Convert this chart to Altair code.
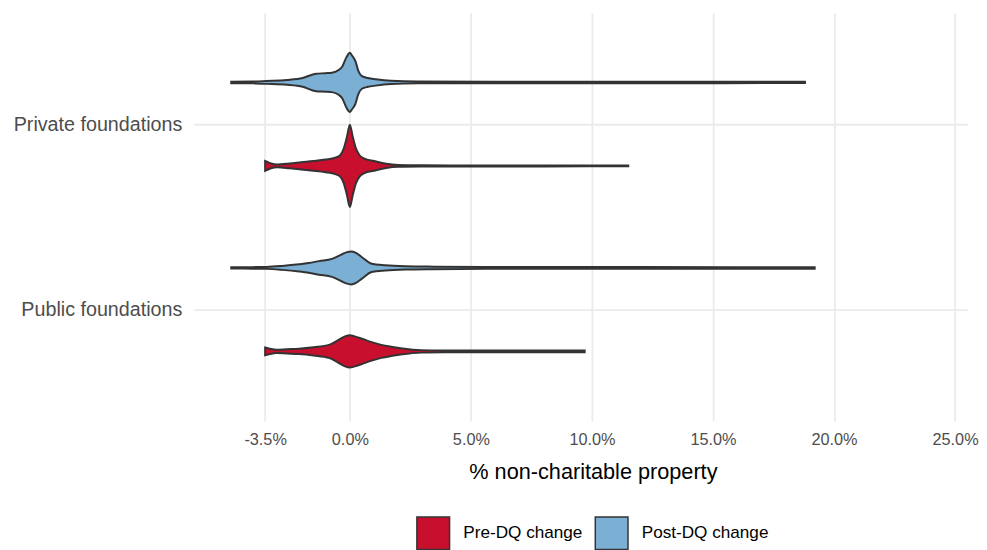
import altair as alt
import pandas as pd

# ---- data (x in %, relative violin half-width 0..1) ----
PRIV_POST_X = [-4.9, -4.0, -3.45, -2.6, -1.95, -1.4, -1.0, -0.74, -0.45, -0.3, -0.16, -0.07, 0.0, 0.08, 0.23, 0.35, 0.5, 0.75, 1.07, 1.7, 2.8, 6.0, 12.0, 18.8]
PRIV_POST_W = [0.019, 0.023, 0.035, 0.058, 0.105, 0.209, 0.221, 0.233, 0.302, 0.395, 0.581, 0.674, 0.709, 0.651, 0.512, 0.279, 0.151, 0.105, 0.077, 0.040, 0.023, 0.019, 0.019, 0.016]

PRIV_PRE_X = [-3.5, -3.4, -3.25, -3.0, -2.5, -2.0, -1.5, -1.0, -0.6, -0.4, -0.25, -0.12, 0.0, 0.12, 0.25, 0.4, 0.6, 1.0, 1.5, 2.0, 3.0, 5.0, 8.0, 11.5]
PRIV_PRE_W = [0.116, 0.093, 0.058, 0.035, 0.058, 0.088, 0.116, 0.151, 0.198, 0.256, 0.419, 0.698, 0.988, 0.698, 0.419, 0.256, 0.174, 0.116, 0.051, 0.023, 0.016, 0.012, 0.012, 0.009]

PUB_POST_X = [-4.9, -4.0, -3.45, -2.8, -2.1, -1.7, -1.27, -0.74, -0.33, -0.15, 0.07, 0.25, 0.5, 0.9, 1.47, 2.3, 3.5, 5.6, 8.0, 12.0, 16.0, 19.2]
PUB_POST_W = [0.016, 0.019, 0.023, 0.047, 0.086, 0.116, 0.163, 0.216, 0.326, 0.372, 0.395, 0.360, 0.256, 0.100, 0.063, 0.040, 0.030, 0.023, 0.023, 0.021, 0.019, 0.019]

PUB_PRE_X = [-3.5, -3.3, -3.05, -2.6, -2.1, -1.5, -0.86, -0.45, -0.2, 0.0, 0.2, 0.5, 0.9, 1.3, 1.7, 2.1, 2.95, 4.05, 6.0, 9.7]
PUB_PRE_W = [0.093, 0.065, 0.040, 0.051, 0.063, 0.098, 0.156, 0.279, 0.360, 0.388, 0.360, 0.302, 0.221, 0.156, 0.112, 0.077, 0.030, 0.023, 0.019, 0.019]

GROUPS = ["Private foundations", "Public foundations"]
PERIODS = ["Pre-DQ change", "Post-DQ change"]
COLORS = ["#C8102E", "#7BAFD4"]
X_TICKS = [-3.5, 0, 5, 10, 15, 20, 25]

rows = []
for grp, per, xs, ws in [
    ("Private foundations", "Post-DQ change", PRIV_POST_X, PRIV_POST_W),
    ("Private foundations", "Pre-DQ change", PRIV_PRE_X, PRIV_PRE_W),
    ("Public foundations", "Post-DQ change", PUB_POST_X, PUB_POST_W),
    ("Public foundations", "Pre-DQ change", PUB_PRE_X, PUB_PRE_W),
]:
    for x, w in zip(xs, ws):
        rows.append({"group": grp, "period": per, "x": x, "w": w})
df = pd.DataFrame(rows)

FONT = "Liberation Sans"

chart = (
    alt.Chart(df)
    .transform_calculate(
        c="(datum.group == 'Private foundations' ? 2 : 1) + (datum.period == 'Post-DQ change' ? 0.225 : -0.225)"
    )
    .transform_calculate(lo="datum.c - datum.w * 0.225", hi="datum.c + datum.w * 0.225")
    .mark_area(orient="vertical", stroke="#333333", strokeWidth=2, interpolate="monotone", opacity=1)
    .encode(
        x=alt.X(
            "x:Q",
            scale=alt.Scale(domain=[-6.45, 25.5], nice=False, zero=False),
            axis=alt.Axis(
                values=X_TICKS,
                labelExpr="datum.value < 0 ? '-' + format(-datum.value, '.1f') + '%' : format(datum.value, '.1f') + '%'",
                title="% non-charitable property",
                titleFontSize=22,
                titleFontWeight="normal",
                titleColor="#000000",
                titlePadding=14,
                titleX=405,
                titleAlign="center",
                labelFontSize=16.5,
                labelColor="#4d4d4d",
                labelPadding=11,
                labelFlush=False,
                ticks=False,
                domain=False,
                grid=True,
                gridColor="#ebebeb",
                gridWidth=1.8,
            ),
        ),
        y=alt.Y(
            "lo:Q",
            scale=alt.Scale(domain=[0.4, 2.6], nice=False, zero=False),
            axis=alt.Axis(
                values=[1, 2],
                labelExpr="datum.value == 2 ? 'Private foundations' : 'Public foundations'",
                title=None,
                labelFontSize=20,
                labelColor="#4d4d4d",
                labelPadding=12,
                ticks=False,
                domain=False,
                grid=True,
                gridColor="#ebebeb",
                gridWidth=1.8,
            ),
        ),
        y2="hi:Q",
        color=alt.Color(
            "period:N",
            scale=alt.Scale(domain=PERIODS, range=COLORS),
            legend=alt.Legend(
                title=None,
                orient="none",
                direction="horizontal",
                legendX=225.5,
                legendY=510,
                symbolType="square",
                symbolSize=1100,
                symbolStrokeColor="#333333",
                symbolStrokeWidth=1.5,
                symbolOpacity=1,
                labelFontSize=17.4,
                labelColor="#000000",
                labelOffset=13,
                columnPadding=9,
                padding=0,
            ),
        ),
        detail="group:N",
    )
    .properties(
        width=784.7,
        height=414,
        padding={"left": 188.4, "top": 1, "right": 12, "bottom": 127},
        autosize=alt.AutoSizeParams(type="none"),
    )
    .configure(font=FONT)
    .configure_view(stroke=None)
)

chart.save("out.html", embed_options={"renderer": "svg", "actions": False})
